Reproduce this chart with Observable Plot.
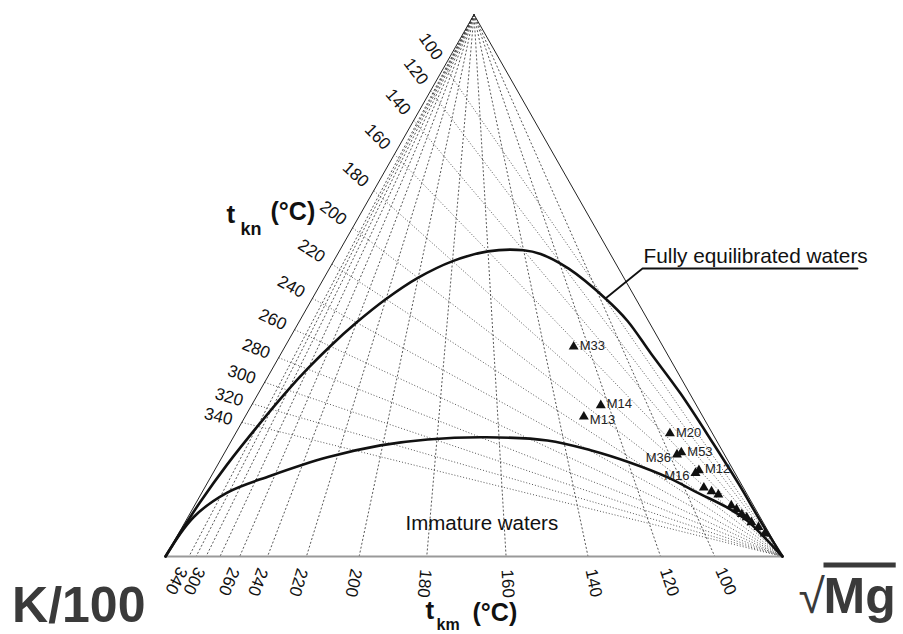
<!DOCTYPE html>
<html>
<head>
<meta charset="utf-8">
<script src="https://cdn.jsdelivr.net/npm/d3@7"></script>
<script src="https://cdn.jsdelivr.net/npm/@observablehq/plot@0.6"></script>
<style>
  html, body { margin: 0; padding: 0; background: #fff; }
  #chart svg { display: block; }
</style>
</head>
<body>
<div id="chart"></div>
<script>
// ---------- DATA ----------
// Tick temperatures (°C)
const tknTicks = [100, 120, 140, 160, 180, 200, 220, 240, 260, 280, 300, 320, 340];
const tkmTicks = [100, 120, 140, 160, 180, 200, 220, 240, 260, 280, 300, 320, 340];
const tkmLabels = [100, 120, 140, 160, 180, 200, 220, 240, 260, 300, 340];

// Full equilibrium curve, ternary % (Na/1000, K/100, sqrt(Mg)), from Mg corner to K corner
const fullNa = [0, 6.4, 13.4, 20.8, 30.1, 37.5, 43.5, 47.6, 53.1, 55.8, 56.5, 56.3, 54.5, 51.4, 47.5, 43.2, 38.8, 34.6, 30.7, 24.0, 16.9, 10.0, 4.6, 2.2, 0];
const fullK  = [0, 0.3, 0.4, 0.8, 1.5, 2.6, 3.4, 4.9, 8.1, 11.3, 13.7, 19.6, 26.2, 33.4, 40.5, 47.4, 53.9, 59.7, 64.8, 73.1, 81.6, 89.4, 95.2, 97.7, 100];
const fullMg = [100, 93.3, 86.2, 78.4, 68.4, 59.9, 53.1, 47.5, 38.8, 32.9, 29.8, 24.1, 19.3, 15.2, 12.0, 9.4, 7.3, 5.7, 4.5, 2.9, 1.5, 0.6, 0.2, 0.1, 0];

// Immature waters boundary, ternary %, from K corner to Mg corner
const immNa = [0, 7.2, 11.8, 14.9, 18.3, 20.5, 21.6, 22.0, 21.4, 19.6, 17.3, 14.6, 11.8, 9.0, 6.6, 1.8, 0];
const immK  = [100, 91.9, 84.1, 75.5, 64.6, 54.9, 46.7, 37.1, 27.4, 21.3, 16.0, 11.3, 7.9, 4.4, 2.4, 0.6, 0];
const immMg = [0, 0.9, 4.1, 9.6, 17.1, 24.6, 31.7, 40.9, 51.2, 59.1, 66.7, 74.1, 80.3, 86.6, 91.0, 97.6, 100];

// Samples, ternary %
const sampleNames = ["M33", "M14", "M13", "M20", "M53", "M36", "M12", "M16", "", "", "", "", "", "", "", "", "", ""];
const sampleNa = [38.7, 27.9, 25.8, 22.7, 19.2, 18.8, 15.9, 15.4, 12.7, 12.0, 11.4, 9.4, 8.7, 7.8, 7.2, 6.3, 5.4, 4.2];
const sampleK  = [14.5, 15.5, 19.3, 6.9, 6.8, 7.7, 5.6, 6.4, 6.4, 5.5, 4.7, 3.6, 3.1, 2.7, 2.2, 1.9, 1.2, 0.8];
const sampleMg = [46.8, 56.6, 54.9, 70.4, 74.0, 73.5, 78.5, 78.2, 80.9, 82.5, 83.9, 87.0, 88.2, 89.5, 90.6, 91.8, 93.4, 95.0];
const leftLabeled = ["M36", "M16"];
const lowLabeled = ["M13"];

// ---------- LAYOUT ----------
const W = 903, H = 634;
const mL = 165, mR = 121, mT = 14, mB = 78;
const fw = W - mL - mR, fh = H - mT - mB;
const FONT = "'Liberation Sans', Arial, Helvetica, sans-serif";

// ternary -> cartesian (K at 0,0 ; Mg at 1,0 ; Na at 0.5,1)
const tx = (na, k, mg) => (mg + na / 2) / (na + k + mg);
const ty = (na, k, mg) => na / (na + k + mg);

const fullCurve = fullNa.map((na, i) => ({x: tx(na, fullK[i], fullMg[i]), y: ty(na, fullK[i], fullMg[i])}));
const immCurve = immNa.map((na, i) => ({x: tx(na, immK[i], immMg[i]), y: ty(na, immK[i], immMg[i])}));
const samples = sampleNames.map((name, i) => ({
  name, x: tx(sampleNa[i], sampleK[i], sampleMg[i]), y: ty(sampleNa[i], sampleK[i], sampleMg[i])
}));

// Giggenbach geothermometer axis transforms
function naSide(t) { const r = Math.pow(10, 1390 / (t + 273.15) - 1.75) / 10; return r / (1 + r); }
function kBase(t) { const r = Math.pow(10, (14 - 4410 / (t + 273.15)) / 2) / 100; return r / (1 + r); }

const knGrid = tknTicks.map(t => { const a = naSide(t); return {t, x1: a / 2, y1: a, x2: 1, y2: 0}; });
const kmGrid = tkmTicks.map(t => { const b = kBase(t); return {t, x1: 0.5, y1: 1, x2: 1 - b, y2: 0}; });

const offL = 10, offB = 13;
const knLab = tknTicks.map(t => {
  const a = naSide(t);
  const dx = (1 - a / 2) * fw, dy = a * fh, L = Math.hypot(dx, dy);
  return {t, x: a / 2 - (dx / L) * offL / fw, y: a + (dy / L) * offL / fh, r: Math.atan2(dy, dx) * 180 / Math.PI};
});
const kmLab = tkmLabels.map(t => {
  const X = 1 - kBase(t);
  const dx = (X - 0.5) * fw, dy = fh, L = Math.hypot(dx, dy);
  return {t, x: X + (dx / L) * offB / fw, y: -(dy / L) * offB / fh, r: Math.atan2(dy, dx) * 180 / Math.PI};
});

const frameSides = [{x: 0, y: 0}, {x: 0.5, y: 1}, {x: 1, y: 0}];
const baseSide = [{x: 0, y: 0}, {x: 1, y: 0}];
const leader = [{x: 0.7131, y: 0.4760}, {x: 0.7731, y: 0.5314}, {x: 1.1216, y: 0.5314}];

const rightLabels = samples.filter(d => d.name && !leftLabeled.includes(d.name) && !lowLabeled.includes(d.name));

const plot = Plot.plot({
  width: W, height: H,
  marginLeft: mL, marginRight: mR, marginTop: mT, marginBottom: mB,
  x: {domain: [0, 1], axis: null},
  y: {domain: [0, 1], axis: null},
  style: {fontFamily: FONT, background: "#fff", overflow: "visible"},
  marks: [
    Plot.link(knGrid, {x1: "x1", y1: "y1", x2: "x2", y2: "y2", stroke: "#444", strokeWidth: 0.9, strokeDasharray: "1,2"}),
    Plot.link(kmGrid, {x1: "x1", y1: "y1", x2: "x2", y2: "y2", stroke: "#444", strokeWidth: 0.9, strokeDasharray: "2,2"}),
    Plot.line(baseSide, {x: "x", y: "y", stroke: "#999", strokeWidth: 2}),
    Plot.line(frameSides, {x: "x", y: "y", stroke: "#222", strokeWidth: 1}),
    Plot.line(fullCurve, {x: "x", y: "y", curve: "catmull-rom", stroke: "#111", strokeWidth: 2.6}),
    Plot.line(immCurve, {x: "x", y: "y", curve: "catmull-rom", stroke: "#111", strokeWidth: 2.6}),
    Plot.dot(samples, {x: "x", y: "y", symbol: "triangle", r: 3.7, fill: "#111", stroke: "none"}),
    Plot.text(rightLabels, {x: "x", y: "y", text: "name", dx: 6, dy: -1, textAnchor: "start", fontSize: 13, fill: "#222"}),
    Plot.text(samples.filter(d => lowLabeled.includes(d.name)), {x: "x", y: "y", text: "name", dx: 6, dy: 3, textAnchor: "start", fontSize: 13, fill: "#222"}),
    Plot.text(samples.filter(d => leftLabeled.includes(d.name)), {x: "x", y: "y", text: "name", dx: -6, dy: 3, textAnchor: "end", fontSize: 13, fill: "#222"}),
    Plot.text(knLab, {x: "x", y: "y", text: d => String(d.t), rotate: "r", textAnchor: "end", fontSize: 17, fill: "#111"}),
    Plot.text(kmLab, {x: "x", y: "y", text: d => String(d.t), rotate: "r", textAnchor: "start", fontSize: 17, fill: "#111"}),
    // annotations
    Plot.line(leader, {x: "x", y: "y", stroke: "#111", strokeWidth: 1.8}),
    Plot.text(["Fully equilibrated waters"], {x: 0.7747, y: 0.5406, text: d => d, textAnchor: "start", lineAnchor: "bottom", fontSize: 20.8, fill: "#111"}),
    Plot.text(["Immature waters"], {x: 0.389, y: 0.048, text: d => d, textAnchor: "start", lineAnchor: "bottom", fontSize: 20.5, fill: "#111"}),
    // axis titles
    Plot.text(["t"], {frameAnchor: "top-left", dx: 61, dy: 208, text: d => d, textAnchor: "start", lineAnchor: "bottom", fontSize: 26, fontWeight: "bold", fill: "#111"}),
    Plot.text(["kn"], {frameAnchor: "top-left", dx: 75, dy: 220, text: d => d, textAnchor: "start", lineAnchor: "bottom", fontSize: 18, fontWeight: "bold", fill: "#111"}),
    Plot.text(["(°C)"], {frameAnchor: "top-left", dx: 105, dy: 205, text: d => d, textAnchor: "start", lineAnchor: "bottom", fontSize: 25, fontWeight: "bold", fill: "#111"}),
    Plot.text(["t"], {frameAnchor: "bottom-left", dx: 260, dy: 62, text: d => d, textAnchor: "start", lineAnchor: "bottom", fontSize: 26, fontWeight: "bold", fill: "#111"}),
    Plot.text(["km"], {frameAnchor: "bottom-left", dx: 271, dy: 73, text: d => d, textAnchor: "start", lineAnchor: "bottom", fontSize: 16, fontWeight: "bold", fill: "#111"}),
    Plot.text(["(°C)"], {frameAnchor: "bottom-left", dx: 307, dy: 64, text: d => d, textAnchor: "start", lineAnchor: "bottom", fontSize: 25, fontWeight: "bold", fill: "#111"}),
    // corner labels
    Plot.text(["K/100"], {frameAnchor: "bottom-left", dx: -20, dy: 65, text: d => d, textAnchor: "end", lineAnchor: "bottom", fontSize: 50, fontWeight: "bold", fill: "#3a3a3a"}),
    Plot.text(["√"], {frameAnchor: "bottom-right", dx: 16, dy: 56, text: d => d, textAnchor: "start", lineAnchor: "bottom", fontSize: 48, fill: "#3a3a3a"}),
    Plot.text(["Mg"], {frameAnchor: "bottom-right", dx: 41, dy: 56, text: d => d, textAnchor: "start", lineAnchor: "bottom", fontSize: 50, fontWeight: "bold", fill: "#3a3a3a"})
  ]
});

d3.select(plot).selectAll("text")
  .filter(function () { return this.textContent === "Mg"; })
  .style("text-decoration", "overline")
  .style("text-decoration-thickness", "3px");

document.getElementById("chart").appendChild(plot);
</script>
</body>
</html>
